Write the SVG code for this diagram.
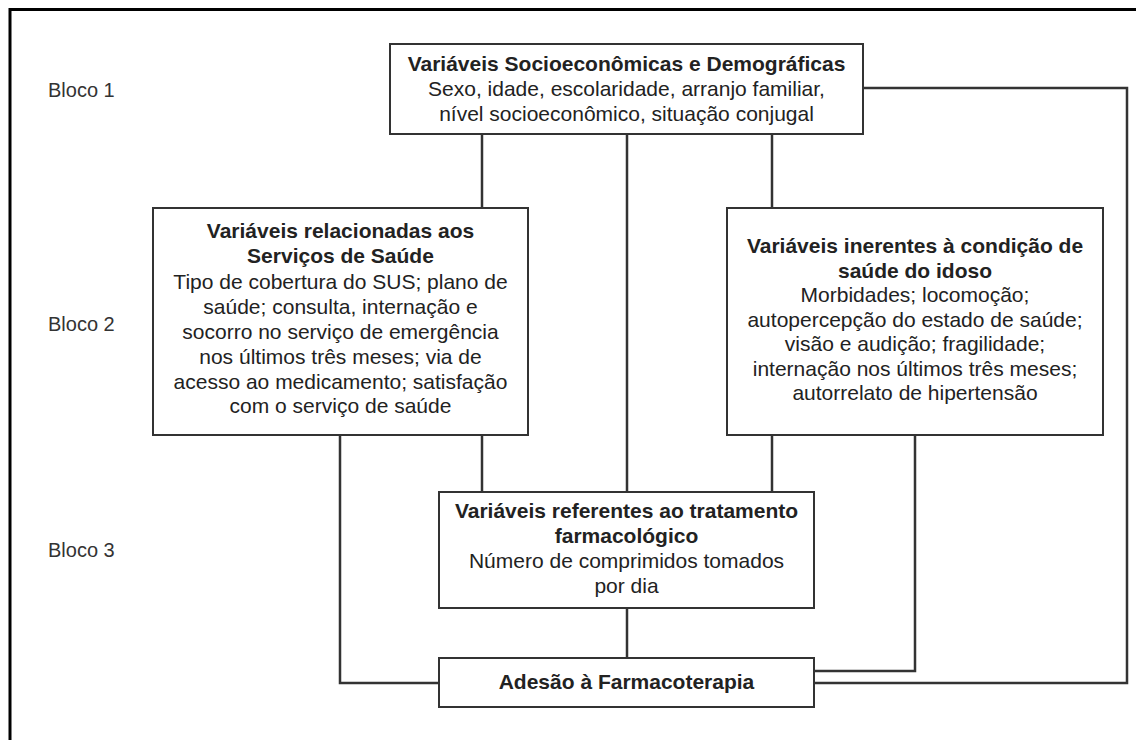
<svg xmlns="http://www.w3.org/2000/svg" width="1136" height="740" viewBox="0 0 1136 740">
<style>
.box{fill:#fff;stroke:#333;stroke-width:2}
.ln{fill:none;stroke:#333;stroke-width:2.5}
text{font-family:"Liberation Sans",Arial,sans-serif;font-size:21px;fill:#222;text-anchor:middle}
.b{font-weight:bold}
.lbl{text-anchor:start;fill:#333;font-size:20px}
</style>
<rect width="1136" height="740" fill="#fff"/>
<path d="M10 760 V9.5 H1150" fill="none" stroke="#000" stroke-width="3"/>
<g id="labels">
<text class="lbl" x="48" y="97">Bloco 1</text>
<text class="lbl" x="48" y="331">Bloco 2</text>
<text class="lbl" x="48" y="557">Bloco 3</text>
</g>
<g id="connectors">
<path class="ln" d="M482 134 V208"/>
<path class="ln" d="M627 134 V492"/>
<path class="ln" d="M772 134 V208"/>
<path class="ln" d="M863 88 H1127 V683 H814"/>
<path class="ln" d="M482 435 V492"/>
<path class="ln" d="M772 435 V492"/>
<path class="ln" d="M340 435 V683 H439"/>
<path class="ln" d="M915 435 V671 H814"/>
<path class="ln" d="M627 608 V658"/>
</g>
<g id="n-socio">
<rect class="box" x="390" y="44" width="473" height="90"/>
<text class="b" x="626.5" y="71">Variáveis Socioeconômicas e Demográficas</text>
<text x="626.5" y="96">Sexo, idade, escolaridade, arranjo familiar,</text>
<text x="626.5" y="121">nível socioeconômico, situação conjugal</text>
</g>
<g id="n-servicos">
<rect class="box" x="153" y="208" width="375" height="227"/>
<text class="b" x="340.5" y="238">Variáveis relacionadas aos</text>
<text class="b" x="340.5" y="263">Serviços de Saúde</text>
<text x="340.5" y="289">Tipo de cobertura do SUS; plano de</text>
<text x="340.5" y="314">saúde; consulta, internação e</text>
<text x="340.5" y="339">socorro no serviço de emergência</text>
<text x="340.5" y="364">nos últimos três meses; via de</text>
<text x="340.5" y="389">acesso ao medicamento; satisfação</text>
<text x="340.5" y="413">com o serviço de saúde</text>
</g>
<g id="n-saude">
<rect class="box" x="727" y="208" width="376" height="227"/>
<text class="b" x="915" y="253">Variáveis inerentes à condição de</text>
<text class="b" x="915" y="278">saúde do idoso</text>
<text x="915" y="302">Morbidades; locomoção;</text>
<text x="915" y="327">autopercepção do estado de saúde;</text>
<text x="915" y="351">visão e audição; fragilidade;</text>
<text x="915" y="376">internação nos últimos três meses;</text>
<text x="915" y="400">autorrelato de hipertensão</text>
</g>
<g id="n-tratamento">
<rect class="box" x="439" y="492" width="375" height="116"/>
<text class="b" x="626.5" y="518">Variáveis referentes ao tratamento</text>
<text class="b" x="626.5" y="543">farmacológico</text>
<text x="626.5" y="568">Número de comprimidos tomados</text>
<text x="626.5" y="593">por dia</text>
</g>
<g id="n-adesao">
<rect class="box" x="439" y="658" width="375" height="49"/>
<text class="b" x="626.5" y="689">Adesão à Farmacoterapia</text>
</g>
</svg>
